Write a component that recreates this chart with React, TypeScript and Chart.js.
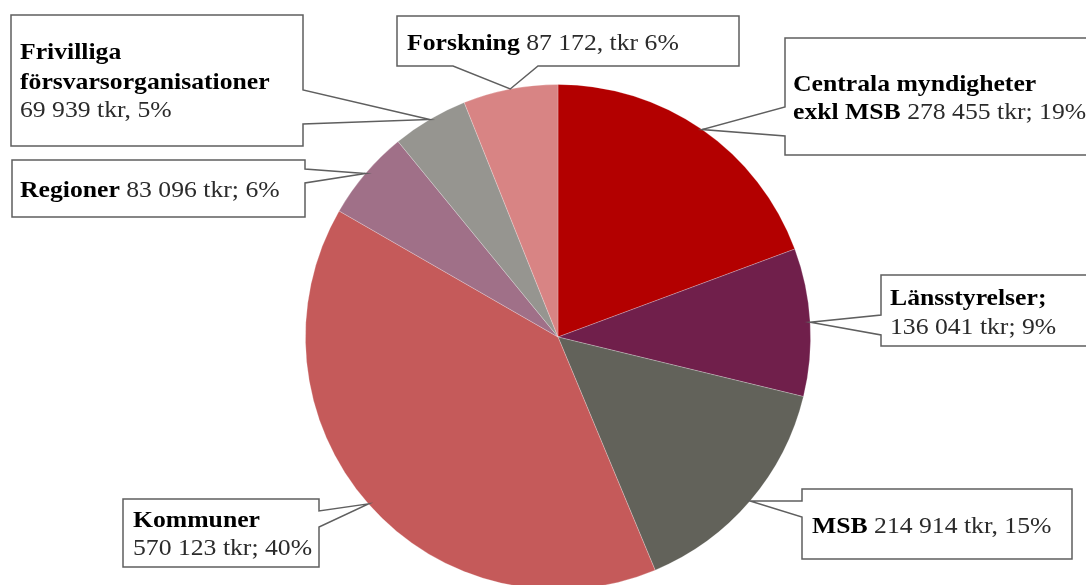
import React, { useEffect, useRef } from "react";
import { Chart, registerables } from "chart.js";

Chart.register(...registerables);

const categories = [
  "Centrala myndigheter exkl MSB",
  "Länsstyrelser",
  "MSB",
  "Kommuner",
  "Regioner",
  "Frivilliga försvarsorganisationer",
  "Forskning",
];
const values = [278455, 136041, 214914, 570123, 83096, 69939, 87172];
const colors = ["#B30000", "#701F4B", "#62625A", "#C55A5A", "#A07088", "#969590", "#D88484"];

// label texts: lines of [text, bold]
const labelTexts: [string, boolean][][][] = [
  [[["Centrala myndigheter", true]], [["exkl MSB", true], [" 278 455 tkr; 19%", false]]],
  [[["Länsstyrelser;", true]], [["136 041 tkr; 9%", false]]],
  [[["MSB", true], [" 214 914 tkr, 15%", false]]],
  [[["Kommuner", true]], [["570 123 tkr; 40%", false]]],
  [[["Regioner", true], [" 83 096 tkr; 6%", false]]],
  [[["Frivilliga", true]], [["försvarsorganisationer", true]], [["69 939 tkr, 5%", false]]],
  [[["Forskning", true], [" 87 172, tkr 6%", false]]],
];

type Box = { x: number; y: number; w: number; h: number; side: string; p1: number; p2: number; base: number[]; tx: number };
const boxes: Box[] = [
  { x: 785, y: 38, w: 330, h: 117, side: "left", p1: 107, p2: 136, base: [91, 119], tx: 793 },
  { x: 881, y: 275, w: 230, h: 71, side: "left", p1: 315, p2: 335, base: [305, 334], tx: 890 },
  { x: 802, y: 489, w: 270, h: 70, side: "left", p1: 501, p2: 517, base: [533], tx: 812 },
  { x: 123, y: 499, w: 196, h: 68, side: "right", p1: 511, p2: 527, base: [527, 555], tx: 133 },
  { x: 12, y: 160, w: 293, h: 57, side: "right", p1: 169, p2: 183, base: [197], tx: 20 },
  { x: 11, y: 15, w: 292, h: 131, side: "right", p1: 90, p2: 124, base: [59, 89, 117], tx: 20 },
  { x: 397, y: 16, w: 342, h: 50, side: "bottom", p1: 453, p2: 538, base: [50], tx: 407 },
];

const FONT = '"Liberation Serif", "Times New Roman", serif';
const FS = 24;
const XSCALE = 1.07;

const calloutPlugin = {
  id: "callouts",
  afterDatasetsDraw(chart: any) {
    const ctx = chart.ctx;
    const meta = chart.getDatasetMeta(0);
    meta.data.forEach((arc: any, i: number) => {
      const b = boxes[i];
      if (!b) return;
      const mid = (arc.startAngle + arc.endAngle) / 2;
      const ax = arc.x + Math.cos(mid) * arc.outerRadius;
      const ay = arc.y + Math.sin(mid) * arc.outerRadius;
      const L = b.x, T = b.y, R = b.x + b.w, B = b.y + b.h;
      ctx.save();
      ctx.beginPath();
      ctx.moveTo(L, T);
      ctx.lineTo(R, T);
      if (b.side === "right") {
        ctx.lineTo(R, b.p1);
        ctx.lineTo(ax, ay);
        ctx.lineTo(R, b.p2);
      }
      ctx.lineTo(R, B);
      if (b.side === "bottom") {
        ctx.lineTo(b.p2, B);
        ctx.lineTo(ax, ay);
        ctx.lineTo(b.p1, B);
      }
      ctx.lineTo(L, B);
      if (b.side === "left") {
        ctx.lineTo(L, b.p2);
        ctx.lineTo(ax, ay);
        ctx.lineTo(L, b.p1);
      }
      ctx.closePath();
      ctx.fillStyle = "#ffffff";
      ctx.fill();
      ctx.lineWidth = 1.5;
      ctx.strokeStyle = "#5f5f5f";
      ctx.lineJoin = "miter";
      ctx.stroke();

      ctx.textBaseline = "alphabetic";
      ctx.textAlign = "left";
      const lines = labelTexts[i];
      lines.forEach((segs, li) => {
        const y = b.base[li];
        ctx.save();
        ctx.translate(b.tx, y);
        ctx.scale(XSCALE, 1);
        let x = 0;
        segs.forEach(([t, bold]) => {
          ctx.font = `${bold ? "bold " : ""}${FS}px ${FONT}`;
          ctx.fillStyle = bold ? "#000000" : "#2b2b2b";
          ctx.fillText(t, x, 0);
          x += ctx.measureText(t).width;
        });
        ctx.restore();
      });
      ctx.restore();
    });
  },
};

export default function App() {
  const ref = useRef<HTMLCanvasElement | null>(null);
  useEffect(() => {
    if (!ref.current) return;
    const chart = new Chart(ref.current, {
      type: "pie",
      data: {
        labels: categories,
        datasets: [
          {
            data: values,
            backgroundColor: colors,
            borderColor: "rgba(255,255,255,0.3)",
            borderWidth: 0.8,
            hoverOffset: 0,
          },
        ],
      },
      options: {
        responsive: false,
        animation: false,
        devicePixelRatio: 1,
        layout: { padding: { left: 30, right: 0, top: 84, bottom: 84 } },
        plugins: { legend: { display: false }, tooltip: { enabled: false } },
        events: [],
      },
      plugins: [calloutPlugin],
    });
    return () => chart.destroy();
  }, []);
  return (
    <div style={{ position: "fixed", left: 0, top: 0, width: 1086, height: 585, overflow: "hidden", background: "#fff" }}>
      <canvas ref={ref} width={1086} height={674} style={{ display: "block", width: 1086, height: 674 }} />
    </div>
  );
}
